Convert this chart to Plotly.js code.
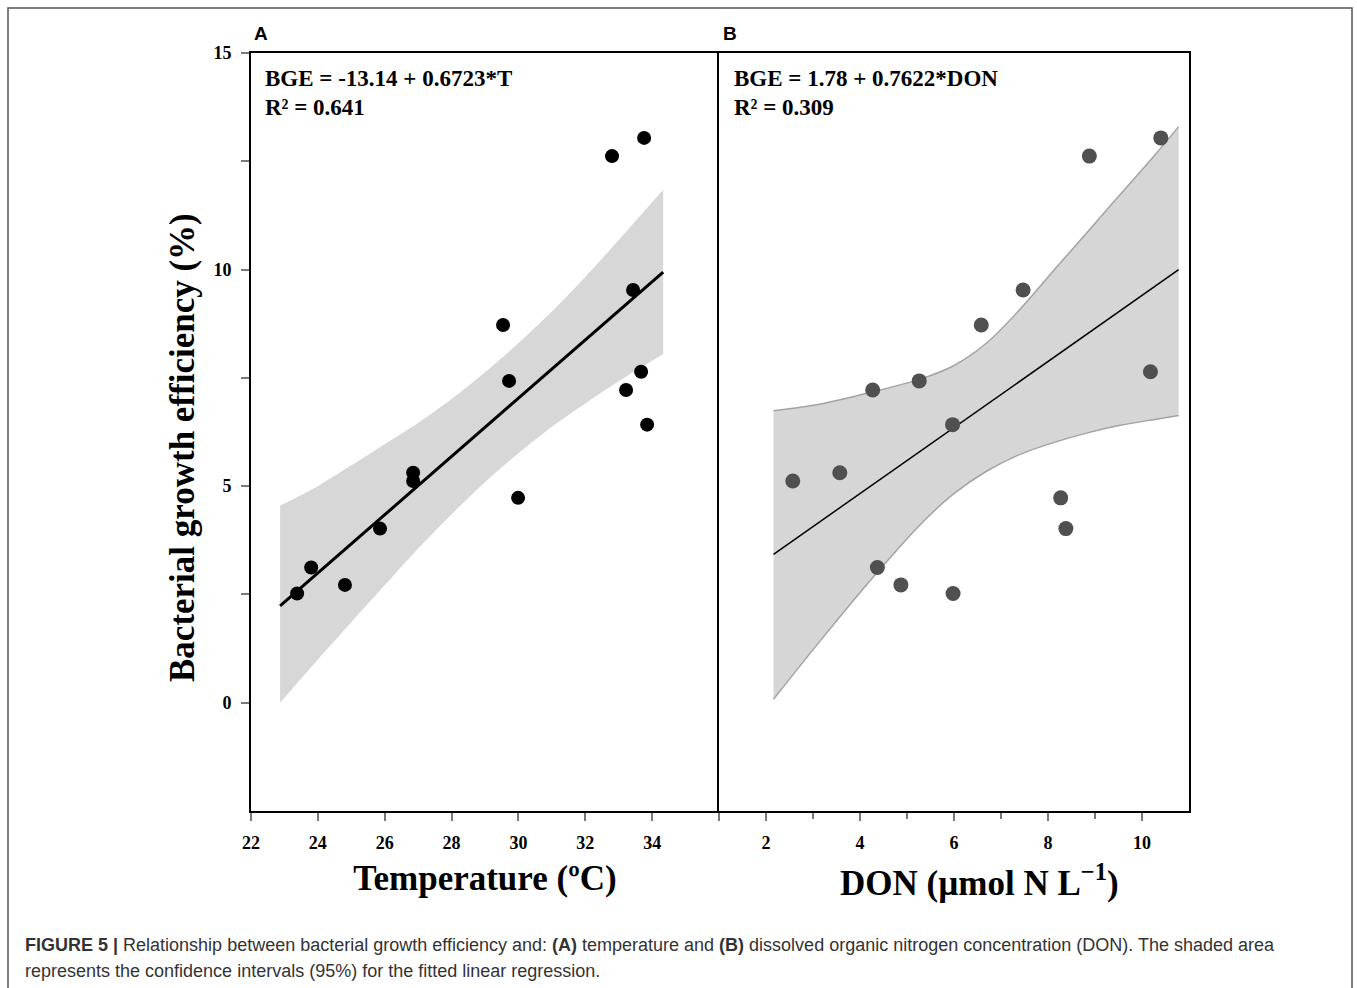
<!DOCTYPE html>
<html>
<head>
<meta charset="utf-8">
<script src="https://cdn.plot.ly/plotly-3.0.1.min.js"></script>
<style>html,body{margin:0;padding:0;background:#fff;}#chart{width:1357px;height:988px;}</style>
</head>
<body>
<div id="chart"></div>
<script>
// ---- data ----
const temperature = [23.38, 23.80, 24.81, 25.86, 26.85, 26.85, 29.54, 29.72, 29.99, 32.80, 33.76, 33.43, 33.67, 33.22, 33.85];
const bge         = [2.52, 3.12, 2.72, 4.02, 5.31, 5.12, 8.72, 7.43, 4.73, 12.62, 13.04, 9.53, 7.64, 7.22, 6.42];
const don         = [5.98, 4.37, 4.87, 8.38, 3.57, 2.57, 6.58, 5.26, 8.27, 8.88, 10.40, 7.47, 10.18, 4.27, 5.97];

// regression (from the equations printed on the panels)
const interceptA = -13.14, slopeA = 0.6723;
const interceptB = 1.78,   slopeB = 0.7622;
const fitRangeA = [22.87, 34.33];
const fitRangeB = [2.16, 10.78];

// 95% confidence band edges
const bandAx  = [22.87, 24, 25, 26, 27, 28, 29, 30, 31, 32, 33, 34.33];
const bandAup = [4.55, 5.00, 5.48, 5.97, 6.46, 7.01, 7.63, 8.30, 9.03, 9.83, 10.68, 11.84];
const bandAlo = [0.00, 1.00, 1.86, 2.71, 3.56, 4.35, 5.09, 5.76, 6.37, 6.91, 7.42, 8.05];

const bandBx  = [2.16, 3.14, 4.21, 5.28, 5.99, 6.70, 7.42, 8.13, 8.84, 9.56, 10.27, 10.78];
const bandBup = [6.74, 6.89, 7.16, 7.47, 7.78, 8.31, 9.10, 9.99, 10.87, 11.76, 12.64, 13.30];
const bandBlo = [0.08, 1.41, 2.81, 4.11, 4.82, 5.35, 5.74, 6.01, 6.23, 6.41, 6.54, 6.63];

// ticks
const xTicksA = [22, 24, 26, 28, 30, 32, 34];
const xMinorA = [36];
const xTicksB = [2, 4, 6, 8, 10];
const xMinorB = [1, 3, 5, 7, 9];
const yTicks  = [0, 5, 10, 15];
const yMinor  = [2.5, 7.5, 12.5];

const xTitleA = 'Temperature (ºC)';
const xTitleB = 'DON (µmol N L<sup>−1</sup>)';
const yTitle  = 'Bacterial growth efficiency (%)';
const eqA = ['BGE = -13.14 + 0.6723*T', 'R² = 0.641'];
const eqB = ['BGE = 1.78 + 0.7622*DON', 'R² = 0.309'];
const caption1 = '<b>FIGURE 5 |</b> Relationship between bacterial growth efficiency and: <b>(A)</b> temperature and <b>(B)</b> dissolved organic nitrogen concentration (DON). The shaded area';
const caption2 = 'represents the confidence intervals (95%) for the fitted linear regression.';

// ---- build ----
const fitAy = fitRangeA.map(x => interceptA + slopeA * x);
const fitBy = fitRangeB.map(x => interceptB + slopeB * x);

const W = 1357, H = 988;
const px = v => v / W, py = v => 1 - v / H;

const serif = 'Liberation Serif, Times New Roman, serif';
const sans = 'Liberation Sans, Arial, sans-serif';

const traces = [
  {x: bandAx, y: bandAlo, xaxis: 'x', yaxis: 'y', mode: 'lines', line: {width: 0, shape: 'spline', smoothing: 0.8, color: '#d7d7d7'}, hoverinfo: 'skip', showlegend: false},
  {x: bandAx, y: bandAup, xaxis: 'x', yaxis: 'y', mode: 'lines', fill: 'tonexty', fillcolor: '#d7d7d7', line: {width: 0, shape: 'spline', smoothing: 0.8, color: '#d7d7d7'}, hoverinfo: 'skip', showlegend: false},
  {x: fitRangeA, y: fitAy, xaxis: 'x', yaxis: 'y', mode: 'lines', line: {color: '#000', width: 3}, showlegend: false},
  {x: temperature, y: bge, xaxis: 'x', yaxis: 'y', mode: 'markers', marker: {color: '#000', size: 14}, showlegend: false},

  {x: bandBx, y: bandBlo, xaxis: 'x2', yaxis: 'y2', mode: 'lines', line: {width: 1.5, shape: 'spline', smoothing: 0.8, color: '#a3a3a3'}, hoverinfo: 'skip', showlegend: false},
  {x: bandBx, y: bandBup, xaxis: 'x2', yaxis: 'y2', mode: 'lines', fill: 'tonexty', fillcolor: '#d6d6d6', line: {width: 1.5, shape: 'spline', smoothing: 0.8, color: '#a3a3a3'}, hoverinfo: 'skip', showlegend: false},
  {x: fitRangeB, y: fitBy, xaxis: 'x2', yaxis: 'y2', mode: 'lines', line: {color: '#000', width: 1.5}, showlegend: false},
  {x: don, y: bge, xaxis: 'x2', yaxis: 'y2', mode: 'markers', marker: {color: '#505050', size: 15}, showlegend: false}
];

const tickFont = {family: serif, size: 18, color: '#000', weight: 'bold'};
const titleFont = {family: serif, size: 35, color: '#000', weight: 'bold'};
const axisCommon = {
  showline: true, linecolor: '#000', linewidth: 2, mirror: true,
  ticks: 'outside', ticklen: 8, tickwidth: 2, tickcolor: '#7a7a7a',
  showgrid: false, zeroline: false, tickfont: tickFont, automargin: false,
  tickmode: 'array', ticklabelstandoff: 6
};
const minorCommon = {tickmode: 'array', ticks: 'outside', ticklen: 8, tickwidth: 2, tickcolor: '#7a7a7a', showgrid: false};

const dA = [px(251), px(719)], dB = [px(719), px(1189)], dY = [py(811), py(53)];

const layout = {
  width: W, height: H,
  margin: {l: 0, r: 0, t: 0, b: 0},
  paper_bgcolor: '#fff', plot_bgcolor: '#fff',
  showlegend: false,
  xaxis: Object.assign({}, axisCommon, {domain: dA, range: [22, 36], anchor: 'y', tickvals: xTicksA,
    ticktext: xTicksA.map(v => '<b>' + v + '</b>'),
    minor: Object.assign({}, minorCommon, {tickvals: xMinorA}),
    title: {text: xTitleA, font: titleFont, standoff: 14}}),
  yaxis: Object.assign({}, axisCommon, {domain: dY, range: [-2.5, 15], anchor: 'x', mirror: false, tickvals: yTicks,
    ticktext: yTicks.map(v => '<b>' + v + '</b>'),
    minor: Object.assign({}, minorCommon, {tickvals: yMinor})}),
  xaxis2: Object.assign({}, axisCommon, {domain: dB, range: [1, 11], anchor: 'y2', tickvals: xTicksB,
    ticktext: xTicksB.map(v => '<b>' + v + '</b>'),
    minor: Object.assign({}, minorCommon, {tickvals: xMinorB, ticklen: 6})}),
  yaxis2: Object.assign({}, axisCommon, {domain: dY, range: [-2.5, 15], anchor: 'x2', matches: 'y', ticks: '', showticklabels: false}),
  shapes: [
    {type: 'rect', xref: 'paper', yref: 'paper', x0: px(8), x1: px(1352), y0: -0.02, y1: py(8), line: {color: '#555', width: 1.5}, fillcolor: 'rgba(0,0,0,0)', layer: 'below'}
  ],
  annotations: [
    {text: yTitle, xref: 'paper', yref: 'paper', x: px(182), y: py(448), xanchor: 'center', yanchor: 'middle', textangle: -90, showarrow: false, font: titleFont},
    {text: xTitleB, xref: 'paper', yref: 'paper', x: px(979), y: py(880), xanchor: 'center', yanchor: 'middle', showarrow: false, font: titleFont},
    {text: 'A', xref: 'paper', yref: 'paper', x: px(252), y: py(33), xanchor: 'left', yanchor: 'middle', showarrow: false, font: {family: sans, size: 19, color: '#000', weight: 'bold'}},
    {text: 'B', xref: 'paper', yref: 'paper', x: px(721), y: py(33), xanchor: 'left', yanchor: 'middle', showarrow: false, font: {family: sans, size: 19, color: '#000', weight: 'bold'}},
    {text: eqA[0], xref: 'paper', yref: 'paper', x: px(263), y: py(78), xanchor: 'left', yanchor: 'middle', showarrow: false, font: {family: serif, size: 23, color: '#000', weight: 'bold'}},
    {text: eqA[1], xref: 'paper', yref: 'paper', x: px(263), y: py(107), xanchor: 'left', yanchor: 'middle', showarrow: false, font: {family: serif, size: 23, color: '#000', weight: 'bold'}},
    {text: eqB[0], xref: 'paper', yref: 'paper', x: px(732), y: py(78), xanchor: 'left', yanchor: 'middle', showarrow: false, font: {family: serif, size: 23, color: '#000', weight: 'bold'}},
    {text: eqB[1], xref: 'paper', yref: 'paper', x: px(732), y: py(107), xanchor: 'left', yanchor: 'middle', showarrow: false, font: {family: serif, size: 23, color: '#000', weight: 'bold'}},
    {text: caption1, xref: 'paper', yref: 'paper', x: px(23), y: py(945), xanchor: 'left', yanchor: 'middle', showarrow: false, font: {family: sans, size: 18, color: '#333'}},
    {text: caption2, xref: 'paper', yref: 'paper', x: px(23), y: py(971), xanchor: 'left', yanchor: 'middle', showarrow: false, font: {family: sans, size: 18, color: '#333'}}
  ]
};

Plotly.newPlot('chart', traces, layout, {displayModeBar: false, staticPlot: true});
</script>
</body>
</html>
